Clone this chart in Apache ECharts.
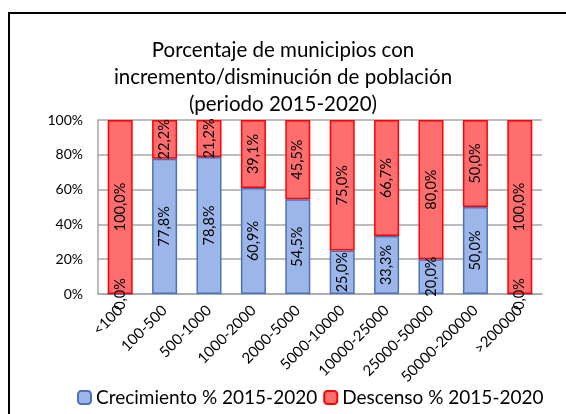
<!DOCTYPE html>
<html><head><meta charset="utf-8">
<script src="https://cdn.jsdelivr.net/npm/echarts@6/dist/echarts.min.js"></script>
<style>
html,body{margin:0;padding:0;background:#fff;}
#frame{position:absolute;left:8px;top:12px;width:600px;height:450px;border:2px solid #000;box-sizing:border-box;}
#c{position:absolute;left:0;top:0;width:566px;height:414px;}
</style></head>
<body>
<div id="frame"></div>
<div id="c"></div>
<script>
var categories = ['<100','100-500','500-1000','1000-2000','2000-5000','5000-10000','10000-25000','25000-50000','50000-200000','>200000'];
var crecimiento = [0, 77.8, 78.8, 60.9, 54.5, 25.0, 33.3, 20.0, 50.0, 0];
var descenso = [100, 22.2, 21.2, 39.1, 45.5, 75.0, 66.7, 80.0, 50.0, 100];
var titleText = 'Porcentaje de municipios con\nincremento/disminución de población\n(periodo 2015-2020)';

var font = 'Lato, "Open Sans", sans-serif';
function fmt(p){ return p.value.toFixed(1).replace('.', ',') + '%'; }
var chart = echarts.init(document.getElementById('c'), null, {renderer:'canvas'});
chart.setOption({
  animation:false,
  title:{text:titleText,left:278,textAlign:'center',top:32,textStyle:{fontFamily:font,fontSize:20.5,fontWeight:'normal',color:'#000',lineHeight:27}},
  legend:{top:383,left:72,itemWidth:13,itemHeight:13,itemGap:6,textStyle:{fontFamily:font,fontSize:19,color:'#000'},
    data:['Crecimiento % 2015-2020','Descenso % 2015-2020']},
  grid:{left:98,right:24,top:120,bottom:120},
  xAxis:{type:'category',data:categories,axisTick:{show:false},
    axisLine:{lineStyle:{color:'#A6A6A6',width:1.5}},
    axisLabel:{rotate:45,interval:0,fontFamily:font,fontSize:15,color:'#000',margin:14}},
  yAxis:{type:'value',min:0,max:100,interval:20,
    axisLabel:{formatter:'{value}%',fontFamily:font,fontSize:14,color:'#000',margin:15},
    splitLine:{lineStyle:{color:'#A6A6A6',width:1.5}},axisLine:{show:true,lineStyle:{color:'#A6A6A6',width:1.5}}},
  series:[
    {name:'Crecimiento % 2015-2020',type:'bar',stack:'a',data:crecimiento,barWidth:25,
     itemStyle:{color:'#9CB6E9',borderColor:'#4A72B8',borderWidth:1.5},
     label:{show:true,position:'inside',rotate:90,formatter:fmt,fontFamily:font,fontSize:14.5,color:'#000'}},
    {name:'Descenso % 2015-2020',type:'bar',stack:'a',data:descenso,barWidth:25,
     itemStyle:{color:'#FF6E6E',borderColor:'#FF0000',borderWidth:1.5},
     label:{show:true,position:'inside',rotate:90,formatter:fmt,fontFamily:font,fontSize:14.5,color:'#000'}}
  ]
});
</script>
</body></html>
